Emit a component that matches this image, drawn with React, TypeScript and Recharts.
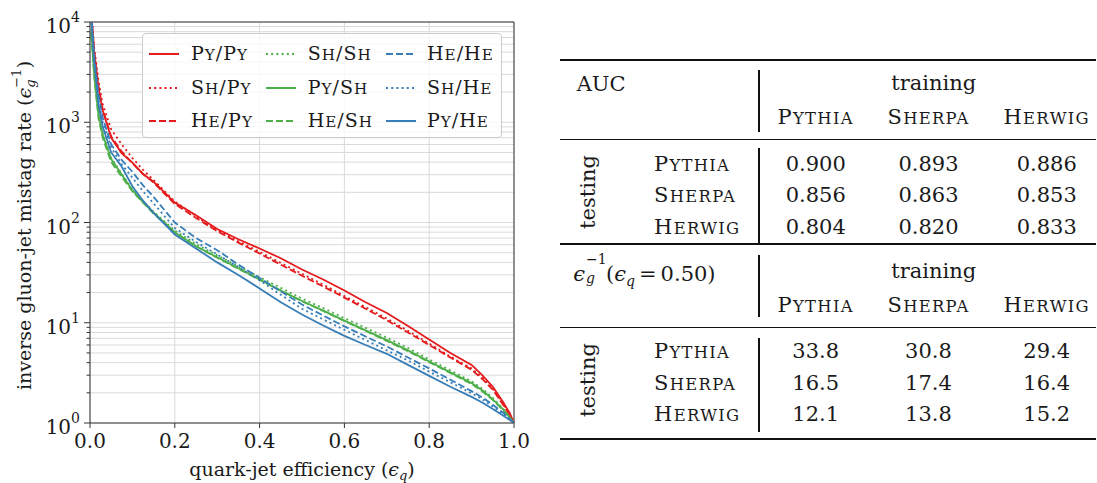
import React from 'react';
import { LineChart, Line, XAxis, YAxis, CartesianGrid, ReferenceLine, Label } from 'recharts';

// ---------- data ----------
const effQ = [0.003, 0.01, 0.02, 0.03, 0.05, 0.075, 0.1, 0.125, 0.15, 0.2, 0.25, 0.3, 0.35, 0.4, 0.45, 0.5, 0.55, 0.6, 0.65, 0.7, 0.75, 0.8, 0.85, 0.9, 0.925, 0.95, 0.975, 0.99, 1.0];

const pyPy = [12000, 5000, 2200, 1300, 700, 490, 395, 305, 255, 158, 118, 86, 68, 55, 44, 34, 27, 21, 16, 12.5, 9.3, 6.8, 5.0, 3.8, 3.0, 2.3, 1.6, 1.25, 1];
const shPy = [13000, 5500, 2600, 1500, 850, 600, 440, 335, 265, 162, 116, 84, 65, 51, 39.5, 30.8, 24, 18.5, 14.3, 11, 8.3, 6.2, 4.6, 3.5, 2.85, 2.2, 1.55, 1.22, 1];
const hePy = [12000, 5000, 2300, 1350, 720, 510, 390, 305, 250, 153, 111, 82, 63, 49, 38, 29.4, 23, 17.8, 13.8, 10.6, 8.0, 6.0, 4.5, 3.4, 2.75, 2.15, 1.5, 1.2, 1];
const shSh = [8500, 3200, 1250, 780, 440, 305, 215, 165, 128, 83, 61, 47, 36.5, 28.5, 22.3, 17.4, 14, 11.1, 8.9, 7.1, 5.6, 4.3, 3.35, 2.6, 2.2, 1.78, 1.38, 1.14, 1];
const pySh = [8000, 3000, 1200, 750, 430, 300, 210, 160, 125, 80, 58, 45, 35, 27, 21, 16.5, 13.2, 10.5, 8.4, 6.7, 5.3, 4.1, 3.2, 2.5, 2.12, 1.72, 1.36, 1.13, 1];
const heSh = [7500, 2800, 1100, 700, 400, 285, 205, 158, 123, 79, 58, 44.5, 34.5, 26.8, 20.9, 16.4, 13.1, 10.4, 8.3, 6.6, 5.2, 4.05, 3.15, 2.45, 2.07, 1.7, 1.34, 1.12, 1];
const heHe = [12000, 4500, 1900, 1100, 600, 420, 320, 235, 180, 100, 70, 53, 38, 28, 20.5, 15.2, 11.8, 9.2, 7.3, 5.8, 4.5, 3.5, 2.7, 2.08, 1.8, 1.52, 1.26, 1.1, 1];
const shHe = [11000, 4200, 1700, 1000, 560, 380, 280, 205, 155, 88, 64, 48, 36, 26.5, 19, 13.8, 10.8, 8.5, 6.7, 5.3, 4.2, 3.25, 2.55, 1.98, 1.72, 1.46, 1.23, 1.09, 1];
const pyHe = [11000, 4000, 1500, 900, 500, 360, 230, 165, 125, 76, 55, 40, 30, 22, 16, 12.1, 9.4, 7.4, 6.0, 4.9, 3.8, 2.95, 2.3, 1.82, 1.6, 1.38, 1.18, 1.07, 1];

const xTicks = [0, 0.2, 0.4, 0.6, 0.8, 1.0];
const yMajorTicks = [1, 10, 100, 1000, 10000];
const yMinorTicks = [2, 3, 4, 5, 6, 7, 8, 9, 20, 30, 40, 50, 60, 70, 80, 90, 200, 300, 400, 500, 600, 700, 800, 900, 2000, 3000, 4000, 5000, 6000, 7000, 8000, 9000];

const generators = ['Pythia', 'Sherpa', 'Herwig'];
const aucValues = [
  ['0.900', '0.893', '0.886'],
  ['0.856', '0.863', '0.853'],
  ['0.804', '0.820', '0.833'],
];
const invEffValues = [
  ['33.8', '30.8', '29.4'],
  ['16.5', '17.4', '16.4'],
  ['12.1', '13.8', '15.2'],
];

// ---------- styles ----------
const RED = '#e41a1c';
const GREEN = '#4daf4a';
const BLUE = '#377eb8';
const AXIS = '#333333';
const GRID = '#dadada';
const TEXT = '#1a1a1a';
const FONT = '"DejaVu Serif", serif';
const DASH = '7 3';
const DOT = '2 3.2';

const series = [
  { key: 'PyPy', label: 'Py/Py', color: RED, dash: undefined, values: pyPy },
  { key: 'ShPy', label: 'Sh/Py', color: RED, dash: DOT, values: shPy },
  { key: 'HePy', label: 'He/Py', color: RED, dash: DASH, values: hePy },
  { key: 'ShSh', label: 'Sh/Sh', color: GREEN, dash: DOT, values: shSh },
  { key: 'PySh', label: 'Py/Sh', color: GREEN, dash: undefined, values: pySh },
  { key: 'HeSh', label: 'He/Sh', color: GREEN, dash: DASH, values: heSh },
  { key: 'HeHe', label: 'He/He', color: BLUE, dash: DASH, values: heHe },
  { key: 'ShHe', label: 'Sh/He', color: BLUE, dash: DOT, values: shHe },
  { key: 'PyHe', label: 'Py/He', color: BLUE, dash: undefined, values: pyHe },
];

const SmallCaps = ({ text, scale = 0.8, spacing = 1 }: { text: string; scale?: number; spacing?: number }) => (
  <span style={{ letterSpacing: spacing }}>
    {text.split('').map((ch, i) =>
      ch >= 'a' && ch <= 'z' ? (
        <span key={i} style={{ fontSize: `${scale}em` }}>{ch.toUpperCase()}</span>
      ) : (
        <span key={i}>{ch}</span>
      )
    )}
  </span>
);

const YTick = (props: any) => {
  const { x, y, payload } = props;
  const v = payload.value;
  const major = yMajorTicks.includes(v);
  const exp = Math.round(Math.log10(v));
  return (
    <g>
      <line x1={x - (major ? 6 : 3.5)} x2={x} y1={y} y2={y} stroke={AXIS} strokeWidth={1} />
      {major && (
        <text x={x - 10} y={y + 4} textAnchor="end" dominantBaseline="central" fontFamily={FONT} fontSize={20} fill={TEXT}>
          <tspan>10</tspan>
          <tspan fontSize={14} dy={-9}>{exp}</tspan>
        </text>
      )}
    </g>
  );
};

const XTick = (props: any) => {
  const { x, y, payload } = props;
  return (
    <g>
      <line x1={x} x2={x} y1={y} y2={y + 5} stroke={AXIS} strokeWidth={1} />
      <text x={x} y={y + 18} textAnchor="middle" dominantBaseline="central" fontFamily={FONT} fontSize={20} fill={TEXT}>
        {Number(payload.value).toFixed(1)}
      </text>
    </g>
  );
};

const YLabel = (props: any) => {
  const vb = props.viewBox || { y: 22, height: 401 };
  const cx = 23.5;
  const cy = vb.y + vb.height / 2 + 3;
  return (
    <text transform={`translate(${cx},${cy}) rotate(-90)`} textAnchor="middle" dominantBaseline="central" fontFamily={FONT} fontSize={19} fill={TEXT}>
      <tspan>inverse gluon-jet mistag rate (</tspan>
      <tspan fontStyle="italic">ϵ</tspan>
      <tspan fontSize={13} dy={-8}>−1</tspan>
      <tspan fontSize={13} fontStyle="italic" dx={-19} dy={14}>g</tspan>
      <tspan dx={11} dy={-6}>)</tspan>
    </text>
  );
};

const XLabel = (props: any) => {
  const vb = props.viewBox || { x: 90, width: 424 };
  const cx = vb.x + vb.width / 2;
  return (
    <text x={cx} y={469} textAnchor="middle" dominantBaseline="central" fontFamily={FONT} fontSize={19} fill={TEXT}>
      <tspan>quark-jet efficiency (</tspan>
      <tspan fontStyle="italic">ϵ</tspan>
      <tspan fontSize={13} fontStyle="italic" dy={6}>q</tspan>
      <tspan dy={-6}>)</tspan>
    </text>
  );
};

const legendCols = [
  { line: 148, text: 190 },
  { line: 265, text: 306.7 },
  { line: 385, text: 426 },
];
const legendRows = [53.3, 86.7, 120];
const LEG_L = 141.5;
const LEG_T = 33;

const LegendBox = () => (
  <div
    style={{
      position: 'absolute',
      left: LEG_L,
      top: LEG_T,
      width: 360,
      height: 105,
      background: 'rgba(255,255,255,0.8)',
      border: '1px solid #cccccc',
      borderRadius: 4,
      boxSizing: 'border-box',
      fontFamily: FONT,
      color: TEXT,
    }}
  >
    {series.map((s, i) => {
      const c = Math.floor(i / 3);
      const r = i % 3;
      const cy = legendRows[r] - LEG_T;
      return (
        <React.Fragment key={s.key}>
          <svg style={{ position: 'absolute', left: legendCols[c].line - LEG_L, top: cy - 5 }} width={31} height={10}>
            <line x1={0} x2={30} y1={5} y2={5} stroke={s.color} strokeWidth={2} strokeDasharray={s.dash} />
          </svg>
          <div
            style={{
              position: 'absolute',
              left: legendCols[c].text - LEG_L,
              top: cy,
              transform: 'translateY(-50%)',
              fontSize: 19,
              lineHeight: 1,
              whiteSpace: 'nowrap',
            }}
          >
            <SmallCaps text={s.label} />
          </div>
        </React.Fragment>
      );
    })}
  </div>
);

// ---------- table ----------
const TBL_L = 560;
const TBL_R = 1096;
const VX = 759;
const colX = [815.7, 928.5, 1046.7];

const HRule = ({ y, t }: { y: number; t: number }) => (
  <div style={{ position: 'absolute', left: TBL_L, width: TBL_R - TBL_L, top: y - t / 2, height: t, background: '#111' }} />
);
const VRule = ({ y1, y2 }: { y1: number; y2: number }) => (
  <div style={{ position: 'absolute', left: VX - 0.7, width: 1.4, top: y1, height: y2 - y1, background: '#111' }} />
);
const T = ({ x, y, children, align = 'center', size = 21 }: any) => (
  <div
    style={{
      position: 'absolute',
      left: x,
      top: y,
      transform: `translate(${align === 'center' ? '-50%' : '0'}, -50%)`,
      fontFamily: FONT,
      fontSize: size,
      lineHeight: 1,
      whiteSpace: 'nowrap',
      color: TEXT,
    }}
  >
    {children}
  </div>
);
const Rot = ({ x, y, children }: any) => (
  <div
    style={{
      position: 'absolute',
      left: x,
      top: y,
      transform: 'translate(-50%, -50%) rotate(-90deg)',
      fontFamily: FONT,
      fontSize: 21,
      lineHeight: 1,
      whiteSpace: 'nowrap',
      color: TEXT,
    }}
  >
    {children}
  </div>
);

const Section = ({ top, title, values }: { top: number; title: React.ReactNode; values: string[][] }) => {
  const hdrY = top + 34;
  const rows = [top + 80.5, top + 112, top + 143.5];
  return (
    <>
      {title}
      <T x={933.7} y={top}>training</T>
      {generators.map((g, j) => (
        <T key={g} x={colX[j]} y={hdrY}>
          <SmallCaps text={g} scale={0.78} spacing={1.3} />
        </T>
      ))}
      <Rot x={588.3} y={top + 109}>testing</Rot>
      {generators.map((g, i) => (
        <T key={g} x={654} y={rows[i]} align="left">
          <SmallCaps text={g} scale={0.78} spacing={1.3} />
        </T>
      ))}
      {values.map((row, i) =>
        row.map((v, j) => (
          <T key={`${i}-${j}`} x={colX[j]} y={rows[i]}>{v}</T>
        ))
      )}
    </>
  );
};

const EpsTitle = () => (
  <span style={{ whiteSpace: 'nowrap' }}>
    <span style={{ fontStyle: 'italic' }}>ϵ</span>
    <span style={{ position: 'relative', display: 'inline-block', width: 21, height: '1em' }}>
      <span style={{ position: 'absolute', left: 1, top: -8, fontSize: 14, lineHeight: 1 }}>−1</span>
      <span style={{ position: 'absolute', left: 1, top: 11, fontSize: 14, lineHeight: 1, fontStyle: 'italic' }}>g</span>
    </span>
    <span>(</span>
    <span style={{ fontStyle: 'italic' }}>ϵ</span>
    <span style={{ fontStyle: 'italic', fontSize: 14, position: 'relative', top: 5 }}>q</span>
    <span style={{ margin: '0 4px' }}>=</span>
    <span>0.50)</span>
  </span>
);

export default function App() {
  return (
    <div style={{ position: 'absolute', left: 0, top: 0, width: 1097, height: 483, background: '#fff', overflow: 'hidden' }}>
      <div style={{ position: 'absolute', left: 0, top: 0 }}>
        <LineChart width={530} height={483} margin={{ top: 22, right: 16, bottom: 30, left: 0 }}>
          <CartesianGrid stroke={GRID} strokeWidth={1} />
          <XAxis
            type="number"
            dataKey="x"
            domain={[0, 1]}
            ticks={xTicks}
            height={30}
            tickSize={0}
            tickMargin={0}
            tickLine={false}
            axisLine={{ stroke: AXIS, strokeWidth: 1 }}
            tick={<XTick />}
            interval={0}
          >
            <Label content={<XLabel />} />
          </XAxis>
          <YAxis
            type="number"
            scale="log"
            domain={[1, 10000]}
            allowDataOverflow
            ticks={[...yMajorTicks, ...yMinorTicks].sort((a, b) => a - b)}
            width={90}
            tickSize={0}
            tickMargin={0}
            tickLine={false}
            axisLine={{ stroke: AXIS, strokeWidth: 1 }}
            tick={<YTick />}
            interval={0}
          >
            <Label content={<YLabel />} />
          </YAxis>
          <ReferenceLine y={10000} stroke={AXIS} strokeWidth={1} />
          <ReferenceLine x={1} stroke={AXIS} strokeWidth={1} />
          {series.map((s) => (
            <Line
              key={s.key}
              name={s.label}
              data={effQ.map((x, i) => ({ x, y: s.values[i] }))}
              dataKey="y"
              type="linear"
              stroke={s.color}
              strokeWidth={1.8}
              strokeDasharray={s.dash}
              dot={false}
              activeDot={false}
              isAnimationActive={false}
            />
          ))}
        </LineChart>
      </div>
      <LegendBox />

      {/* table */}
      <HRule y={60} t={2.2} />
      <HRule y={139.3} t={1.4} />
      <HRule y={244.3} t={2.2} />
      <HRule y={327.5} t={1.4} />
      <HRule y={439.3} t={2.2} />
      <VRule y1={70} y2={132} />
      <VRule y1={148} y2={243} />
      <VRule y1={255} y2={317} />
      <VRule y1={338} y2={432} />
      <Section top={83.3} title={<T x={576.7} y={84} align="left">AUC</T>} values={aucValues} />
      <Section top={270.5} title={<T x={573.3} y={272} align="left"><EpsTitle /></T>} values={invEffValues} />
    </div>
  );
}
